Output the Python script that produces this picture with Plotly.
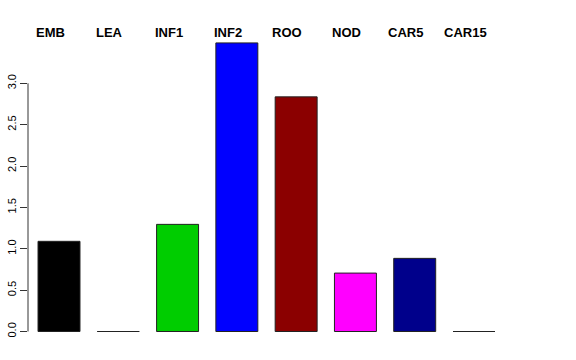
import plotly.graph_objects as go

categories = ["EMB", "LEA", "INF1", "INF2", "ROO", "NOD", "CAR5", "CAR15"]
values = [1.09, 0.0, 1.295, 3.488, 2.836, 0.706, 0.884, 0.0]
colors = ["#000000", "#FFA500", "#00CD00", "#0000FF", "#8B0000", "#FF00FF", "#00008B", "#A020F0"]
y_ticks = [0.0, 0.5, 1.0, 1.5, 2.0, 2.5, 3.0]
y_ticktext = ["0.0", "0.5", "1.0", "1.5", "2.0", "2.5", "3.0"]

xpos = list(range(len(categories)))

fig = go.Figure()
fig.add_trace(go.Bar(
    x=xpos, y=values,
    marker=dict(color=colors, line=dict(color="#222222", width=1)),
    width=0.708,
    hoverinfo="skip",
))

for i, c in enumerate(categories):
    fig.add_annotation(
        x=i - 0.15, xref="x", y=1.0, yref="paper",
        text="<b>" + c + "</b>", showarrow=False,
        xanchor="center", yanchor="middle", yshift=0,
        font=dict(family="Liberation Sans, Arial, sans-serif", size=13, color="black"),
    )

fig.add_shape(type="line", xref="paper", yref="y", x0=0, x1=0, y0=0, y1=3,
              line=dict(color="#333333", width=1))

fig.update_layout(
    width=576, height=360,
    margin=dict(l=28, r=71, t=32, b=17),
    paper_bgcolor="white", plot_bgcolor="white",
    showlegend=False,
    font=dict(family="Liberation Sans, Arial, sans-serif", size=12, color="black"),
    xaxis=dict(range=[-0.523, 7.523], showticklabels=False, showgrid=False,
               zeroline=False, showline=False, ticks="", automargin=False),
    yaxis=dict(range=[-0.139, 3.62], tickvals=y_ticks, ticktext=y_ticktext,
               tickangle=-90, ticks="outside", ticklen=7, tickcolor="#333333",
               showgrid=False, zeroline=False, showline=False, automargin=False,
               tickfont=dict(size=11, color="black")),
)

fig.write_html("out.html", config={"displayModeBar": False})

with open("out.html", "r", encoding="utf-8") as f:
    html = f.read()
html = html.replace("<body>", '<body style="margin:0;padding:0;">', 1)
with open("out.html", "w", encoding="utf-8") as f:
    f.write(html)
